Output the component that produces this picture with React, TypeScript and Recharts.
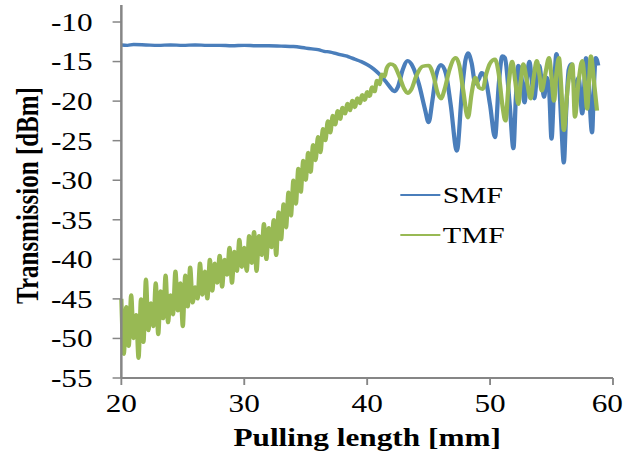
import React from 'react'
import { LineChart, Line, XAxis, YAxis, Legend, Label } from 'recharts'

// pulling length [mm] vs transmission [dBm]
const smfPoints: [number, number][] = [
  [20.0, -12.9], [20.5, -12.95], [21, -12.85], [22, -12.9], [23, -12.95], [24, -12.9],
  [25, -12.95], [26, -12.9], [27, -12.95], [28, -12.95], [29, -13.0], [30, -12.95],
  [31, -13.0], [32, -13.0], [33, -13.05], [34, -13.1], [35, -13.3], [35.5, -13.4],
  [36, -13.5], [36.5, -13.7], [37, -13.8], [37.5, -14.0], [38, -14.2], [38.5, -14.4],
  [39, -14.7], [39.5, -15.0], [40, -15.4], [40.5, -15.9], [41, -16.6], [41.5, -17.5],
  [41.9, -18.3], [42.2, -18.8], [42.5, -18.2], [42.9, -16.0], [43.3, -14.9], [43.7, -15.6],
  [44.2, -17.8], [44.7, -21.0], [45.0, -22.7], [45.3, -20.0], [45.6, -16.8], [46.0, -15.4],
  [46.4, -16.5], [46.8, -20.5], [47.3, -26.3], [47.7, -19.0], [48.0, -14.8], [48.2, -13.9],
  [48.5, -15.2], [48.8, -17.8], [49.1, -17.2], [49.3, -16.4], [49.6, -17.0], [50.0, -20.5],
  [50.4, -24.6], [50.7, -18.0], [51.0, -14.3], [51.2, -14.5], [51.6, -20.5], [51.9, -26.0],
  [52.1, -19.5], [52.3, -15.5], [52.6, -17.5], [52.8, -20.2], [53.0, -17.0], [53.2, -15.0],
  [53.4, -17.5], [53.6, -19.7], [53.8, -17.0], [54.0, -15.5], [54.2, -17.5], [54.4, -19.5],
  [54.6, -17.0], [54.8, -18.5], [55.0, -24.8], [55.2, -18.5], [55.4, -14.0], [55.6, -17.0],
  [55.8, -23.0], [56.0, -27.8], [56.2, -21.0], [56.4, -16.0], [56.6, -15.3], [56.8, -17.5],
  [57.0, -18.2], [57.2, -17.0], [57.5, -21.6], [57.7, -17.0], [57.8, -14.5], [58.0, -17.5],
  [58.3, -24.0], [58.45, -18.0], [58.6, -14.5], [58.8, -15.5],
]

const tmfPoints: [number, number][] = [
  [20.0, -45], [20.2, -52], [20.4, -46], [20.6, -51], [20.8, -44.5], [21.0, -50],
  [21.2, -47], [21.4, -52.5], [21.6, -45], [21.8, -50.5], [22.0, -42.5], [22.2, -49],
  [22.4, -45.5], [22.6, -48.5], [22.8, -43], [23.0, -49.5], [23.2, -44], [23.4, -47.5],
  [23.6, -42], [23.8, -48], [24.0, -44.5], [24.2, -47], [24.4, -41.5], [24.6, -46.5],
  [24.8, -43], [25.0, -48.5], [25.2, -42], [25.4, -46], [25.6, -41], [25.8, -45.5],
  [26.0, -43.5], [26.2, -45], [26.4, -40.5], [26.6, -44.5], [26.8, -41.5], [27.0, -45],
  [27.2, -40], [27.4, -44], [27.6, -40.5], [27.8, -43], [28.0, -39.5], [28.2, -43.5],
  [28.4, -40], [28.6, -42], [28.8, -38.5], [29.0, -43], [29.2, -39], [29.4, -41.5],
  [29.6, -37.5], [29.8, -41], [30.0, -38.5], [30.2, -41.5], [30.4, -37], [30.6, -40.5],
  [30.8, -36.5], [31.0, -41.5], [31.2, -37], [31.4, -39.5], [31.6, -35.5], [31.8, -40],
  [32.0, -36], [32.2, -38.5], [32.4, -35], [32.6, -39.5], [32.8, -34], [33.0, -37.5],
  [33.2, -33], [33.4, -36], [33.6, -31.5], [33.8, -34.5], [34.0, -30], [34.2, -33],
  [34.4, -28.5], [34.6, -31.5], [34.8, -27.5], [35.0, -30], [35.2, -26.5], [35.4, -29],
  [35.6, -25.5], [35.8, -27.5], [36.0, -24.5], [36.2, -26.5], [36.4, -23.5], [36.6, -25],
  [36.8, -22.5], [37.0, -24], [37.2, -21.8], [37.4, -23], [37.6, -21.2], [37.8, -22.3],
  [38.0, -20.8], [38.2, -21.6], [38.4, -20.3], [38.6, -21.2], [38.8, -19.9], [39.0, -20.8],
  [39.2, -19.6], [39.4, -20.3], [39.6, -19.2], [39.8, -19.9], [40.0, -18.8], [40.2, -19.4],
  [40.4, -18.2], [40.6, -18.8], [40.8, -17.4], [41.0, -17.9], [41.2, -16.6], [41.4, -16.9],
  [41.6, -15.8], [41.9, -15.3], [42.2, -15.5], [42.6, -16.8], [43.0, -18.4], [43.3, -19.0],
  [43.6, -18.5], [44.0, -16.8], [44.5, -15.6], [45.0, -15.5], [45.4, -16.8], [45.7, -18.8],
  [46.0, -19.7], [46.3, -18.5], [46.7, -16.0], [47.2, -14.5], [47.5, -15.5], [47.8, -18.5],
  [48.2, -22.1], [48.5, -19.0], [48.8, -17.0], [49.1, -18.3], [49.4, -18.5], [49.7, -16.5],
  [50.0, -15.2], [50.4, -14.7], [50.7, -16.5], [51.0, -20.5], [51.25, -22.5], [51.5, -18.0],
  [51.8, -15.0], [52.05, -17.5], [52.3, -20.4], [52.5, -17.5], [52.7, -15.3], [53.0, -17.5],
  [53.3, -19.7], [53.55, -17.0], [53.8, -14.9], [54.0, -16.5], [54.2, -18.7], [54.5, -16.5],
  [54.8, -14.5], [55.0, -17.0], [55.2, -20.0], [55.4, -16.5], [55.6, -14.5], [55.8, -18.5],
  [56.0, -23.7], [56.3, -18.5], [56.7, -15.3], [56.9, -22.0], [57.2, -17.5], [57.5, -14.9],
  [57.7, -17.5], [57.9, -21.0], [58.05, -17.5], [58.2, -14.3], [58.45, -17.5], [58.7, -21.2],
]

const xTicks = [20, 30, 40, 50, 60]
const yTicks = [-55, -50, -45, -40, -35, -30, -25, -20, -15, -10]

const FONT = '"Liberation Serif", "Times New Roman", serif'
const AXIS = '#868686'
const BLUE = '#4A7EBB'
const GREEN = '#98B954'

// the source figure is stretched sideways, so draw narrow and scale x
const STRETCH = 1.251
const W = 498
const H = 454

const toRows = (pts: [number, number][]) => pts.map(([x, y]) => ({ x, y }))

function LegendBox({ payload }: any) {
  return (
    <div style={{ fontFamily: FONT, fontSize: 24, color: '#000' }}>
      {(payload || []).map((e: any) => (
        <div key={e.value} style={{ display: 'flex', alignItems: 'center', height: 40 }}>
          <span style={{ width: 32, height: 2, background: e.color, display: 'inline-block', marginRight: 2 }} />
          <span>{e.value}</span>
        </div>
      ))}
    </div>
  )
}

export default function App() {
  const tickStyle = { fill: '#000', fontSize: 25, fontFamily: FONT }
  return (
    <div style={{ position: 'absolute', left: 0, top: 0, width: 623, height: H, overflow: 'hidden', background: '#fff' }}>
      <div style={{ width: W, height: H, transform: `scaleX(${STRETCH})`, transformOrigin: '0 0' }}>
        <LineChart width={W} height={H} margin={{ top: 5, right: 8, bottom: 0, left: 0 }}>
          <XAxis
            type="number"
            dataKey="x"
            domain={[20, 60]}
            ticks={xTicks}
            height={76}
            tick={tickStyle}
            tickSize={7}
            tickMargin={9}
            axisLine={{ stroke: AXIS, strokeWidth: 2 }}
            tickLine={{ stroke: AXIS, strokeWidth: 1.5 }}
          >
            <Label
              content={(p: any) => {
                const vb = p.viewBox
                return (
                  <text x={vb.x + vb.width / 2} y={446} textAnchor="middle"
                    style={{ fontFamily: FONT, fontSize: 25, fontWeight: 'bold', fill: '#000' }}>
                    Pulling length [mm]
                  </text>
                )
              }}
            />
          </XAxis>
          <YAxis
            type="number"
            domain={[-55, -7.85]}
            ticks={yTicks}
            width={97}
            tick={tickStyle}
            tickSize={7}
            tickMargin={16}
            allowDataOverflow
            axisLine={{ stroke: AXIS, strokeWidth: 2 }}
            tickLine={{ stroke: AXIS, strokeWidth: 1.5 }}
          >
            <Label
              content={(p: any) => {
                const vb = p.viewBox
                const cx = vb.x + 30
                const cy = vb.y + vb.height / 2 + 4
                return (
                  <text x={cx} y={cy} textAnchor="middle" transform={`rotate(-90 ${cx} ${cy})`}
                    style={{ fontFamily: FONT, fontSize: 25, fontWeight: 'bold', fill: '#000' }}>
                    Transmission [dBm]
                  </text>
                )
              }}
            />
          </YAxis>
          <Legend
            layout="vertical"
            align="center"
            verticalAlign="middle"
            content={<LegendBox />}
            wrapperStyle={{ left: 320, top: 175, width: 120 }}
          />
          <Line
            name="SMF"
            data={toRows(smfPoints)}
            dataKey="y"
            type="monotone"
            stroke={BLUE}
            strokeWidth={3.4}
            dot={false}
            isAnimationActive={false}
          />
          <Line
            name="TMF"
            data={toRows(tmfPoints)}
            dataKey="y"
            type="monotone"
            stroke={GREEN}
            strokeWidth={3.4}
            dot={false}
            isAnimationActive={false}
          />
        </LineChart>
      </div>
    </div>
  )
}
